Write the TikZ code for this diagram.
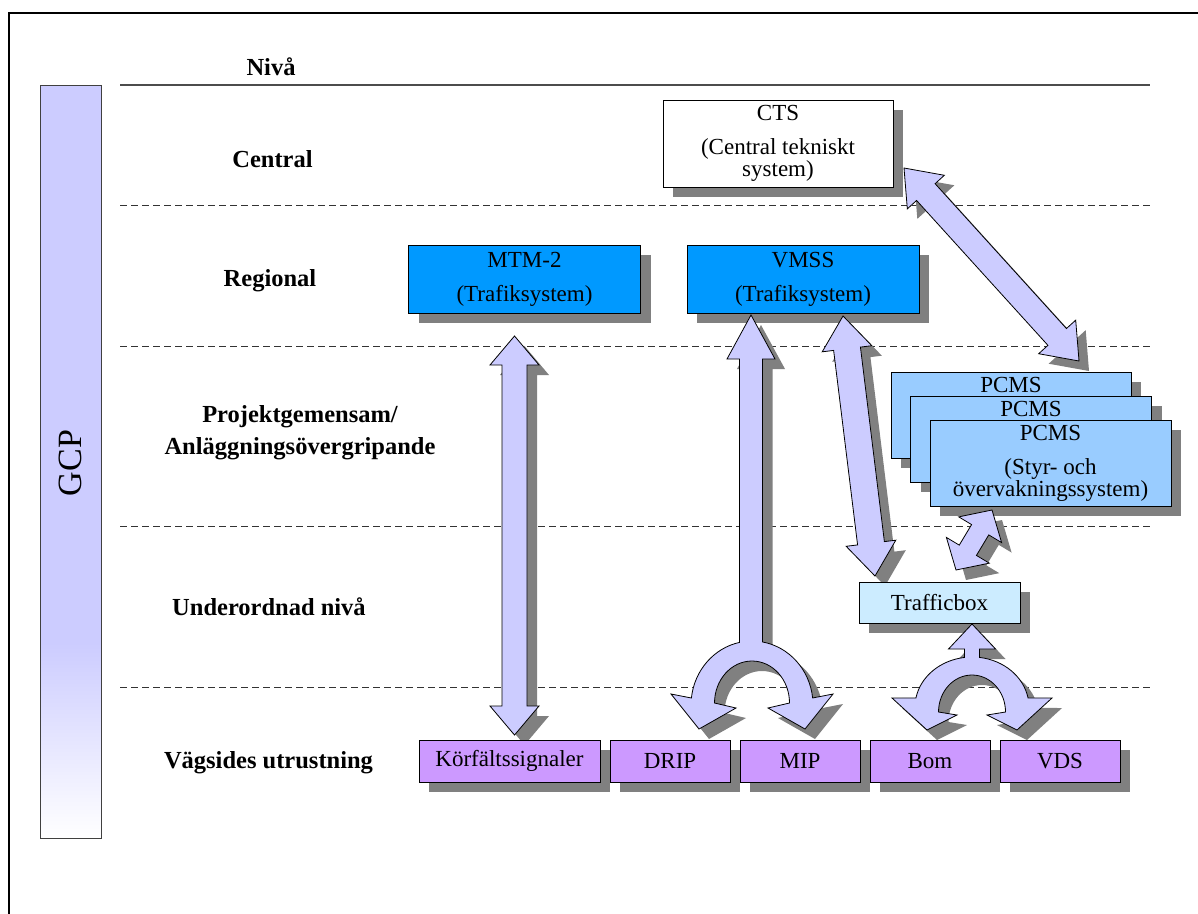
\documentclass[tikz,border=0pt]{standalone}
\usepackage{fontspec}
\setmainfont{Liberation Serif}
\usetikzlibrary{calc,shadows}

\definecolor{arrowfill}{HTML}{CCCCFF}
\definecolor{shadowgray}{HTML}{808080}
\definecolor{sysblue}{HTML}{0099FF}
\definecolor{pcmsblue}{HTML}{99CCFF}
\definecolor{boxcyan}{HTML}{CCECFF}
\definecolor{fieldviolet}{HTML}{CC99FF}

\tikzset{
  x=1pt, y=1pt,
  sysbox/.style={draw=black, line width=0.9pt, inner sep=0pt, align=center,
    font=\fontsize{23}{20}\selectfont,
    drop shadow={shadow xshift=10pt, shadow yshift=-10pt, opacity=1, fill=shadowgray}},
  levellabel/.style={font=\bfseries\fontsize{24.5}{32}\selectfont, align=center, inner sep=0pt},
  levelline/.style={draw=black!80, line width=0.9pt, dash pattern=on 7pt off 4pt},
  blockarrow/.style={fill=arrowfill, draw=black, line width=0.8pt, line join=miter},
  shapeshadow/.style={fill=shadowgray},
}

% a filled outline with a solid drop shadow 10pt right and down
\newcommand\shadowedshape[2]{%
  \begin{scope}[transform canvas={shift={(10pt,-10pt)}}]
    \fill[shapeshadow] #2;
  \end{scope}
  \filldraw[#1] #2;}

% double-headed block arrow between two coordinates:
% #3 half shaft width, #4 half head width, #5 head length
\newcommand\dblblockarrow[5]{%
  \shadowedshape{blockarrow}{(#1) -- ($(#1)!#5!(#2)!#4!90:(#2)$) -- ($(#1)!#5!(#2)!#3!90:(#2)$)
    -- ($(#2)!#5!(#1)!#3!-90:(#1)$) -- ($(#2)!#5!(#1)!#4!-90:(#1)$) -- (#2)
    -- ($(#2)!#5!(#1)!#4!90:(#1)$) -- ($(#2)!#5!(#1)!#3!90:(#1)$)
    -- ($(#1)!#5!(#2)!#3!-90:(#2)$) -- ($(#1)!#5!(#2)!#4!-90:(#2)$) -- cycle}}

% the stacked PCMS boxes behind the front one only show their title
\newcommand\pcmsback{PCMS\\[14pt]\phantom{(Styr- och}\\\phantom{övervakningssystem)}}

\begin{document}
\begin{tikzpicture}
\useasboundingbox (0,0) rectangle (1198,-913);

% outer frame
\draw[line width=2pt] (9,-920) -- (9,-13) -- (1205,-13);

% GCP column
\fill[arrowfill] (40,-85) rectangle (101,-643);
\shade[top color=arrowfill, bottom color=white] (40,-643) rectangle (101,-838);
\draw[black!75, line width=0.8pt] (40,-85) rectangle (101,-838);
\node[rotate=90, inner sep=0pt, font=\fontsize{34}{34}\selectfont] (gcp) at (70.5,-463) {GCP};

% level separators
\draw[black!70, line width=1.2pt] (120,-85) -- (1150,-85);
\foreach \yy in {205.5,346,526.5,687}
  \draw[levelline] (120,-\yy) -- (1150,-\yy);

% level names
\node[levellabel, anchor=base] (niva) at (271,-75) {Nivå};
\node[levellabel, anchor=base] (central) at (272.5,-167) {Central};
\node[levellabel, anchor=base] (regional) at (270,-286) {Regional};
\node[levellabel] (projekt) at (300,-433) {Projektgemensam/\\Anläggningsövergripande};
\node[levellabel, anchor=base] (underordnad) at (269,-615) {Underordnad nivå};
\node[levellabel, anchor=base] (vagsides) at (268.5,-768) {Vägsides utrustning};

% systems
\node[sysbox, fill=white, minimum width=230pt, minimum height=87pt] (cts) at (778,-143.5)
  {CTS\\[14pt](Central tekniskt\\system)};
\node[sysbox, fill=sysblue, minimum width=232pt, minimum height=68pt] (mtm) at (524.5,-279)
  {MTM-2\\[14pt](Trafiksystem)};
\node[sysbox, fill=sysblue, minimum width=232pt, minimum height=68pt] (vmss) at (803,-279)
  {VMSS\\[14pt](Trafiksystem)};
\node[sysbox, fill=pcmsblue, minimum width=240pt, minimum height=86pt] (pcmsa) at (1011,-415)
  {\pcmsback};
\node[sysbox, fill=pcmsblue, minimum width=241pt, minimum height=86pt] (pcmsb) at (1031,-439)
  {\pcmsback};
\node[sysbox, fill=pcmsblue, minimum width=241pt, minimum height=86pt] (pcmsc) at (1050.5,-463)
  {PCMS\\[14pt](Styr- och\\övervakningssystem)};

% arrow end points
\coordinate (mtmTip) at (514.5,-336);
\coordinate (korTip) at (514.5,-735);
\coordinate (vmssTipB) at (843,-316);
\coordinate (tboxTipA) at (875,-576);
\coordinate (ctsTip) at (904,-168);
\coordinate (pcmsTipA) at (1079,-361);
\coordinate (pcmsTipB) at (992,-510);
\coordinate (tboxTipB) at (956,-570);

% MTM-2 <-> Körfältssignaler
\dblblockarrow{mtmTip}{korTip}{12.5pt}{24.5pt}{29pt}

% VMSS <-> DRIP / MIP, forked
\shadowedshape{blockarrow}{(751,-315) -- (775,-359) -- (762.5,-359) -- (762.5,-641.95)
  arc[start angle=80.1, end angle=6.3, x radius=61, y radius=64]
  -- (833,-694) -- (805,-729) -- (768,-708) -- (789.5,-703)
  arc[start angle=0, end angle=180, x radius=37.5, y radius=42]
  -- (736,-708) -- (699,-729) -- (671,-694) -- (691.4,-698)
  arc[start angle=173.7, end angle=101.8, x radius=61, y radius=64]
  -- (739.5,-359) -- (727,-359) -- cycle}

% VMSS <-> Trafficbox
\dblblockarrow{vmssTipB}{tboxTipA}{13.5pt}{25pt}{33pt}
% CTS <-> PCMS
\dblblockarrow{ctsTip}{pcmsTipA}{12.5pt}{25pt}{32.5pt}
% PCMS <-> Trafficbox
\dblblockarrow{pcmsTipB}{tboxTipB}{10pt}{25pt}{23pt}

\node[sysbox, fill=boxcyan, minimum width=161pt, minimum height=41pt] (tbox) at (939.5,-602.5) {Trafficbox};

% Trafficbox <-> Bom / VDS, forked
\shadowedshape{blockarrow}{(972,-624) -- (995.5,-649) -- (979.5,-649) -- (979.5,-657.4)
  arc[start angle=82.4, end angle=10.4, x radius=57, y radius=50]
  -- (1052,-698) -- (1017,-730) -- (987,-715) -- (1005.5,-712)
  arc[start angle=0, end angle=180, x radius=33.5, y radius=37]
  -- (957,-715) -- (927,-730) -- (892,-698) -- (915.94,-697.97)
  arc[start angle=169.6, end angle=97.6, x radius=57, y radius=50]
  -- (964.5,-649) -- (948.5,-649) -- cycle}

% roadside equipment
\node[sysbox, fill=fieldviolet, minimum width=181pt, minimum height=42pt] (kor) at (509.5,-761) {Körfältssignaler};
\node[sysbox, fill=fieldviolet, minimum width=120pt, minimum height=42pt] (drip) at (670,-761) {DRIP};
\node[sysbox, fill=fieldviolet, minimum width=120pt, minimum height=42pt] (mip) at (800,-761) {MIP};
\node[sysbox, fill=fieldviolet, minimum width=120pt, minimum height=42pt] (bom) at (930,-761) {Bom};
\node[sysbox, fill=fieldviolet, minimum width=120pt, minimum height=42pt] (vds) at (1060,-761) {VDS};
\end{tikzpicture}
\end{document}
